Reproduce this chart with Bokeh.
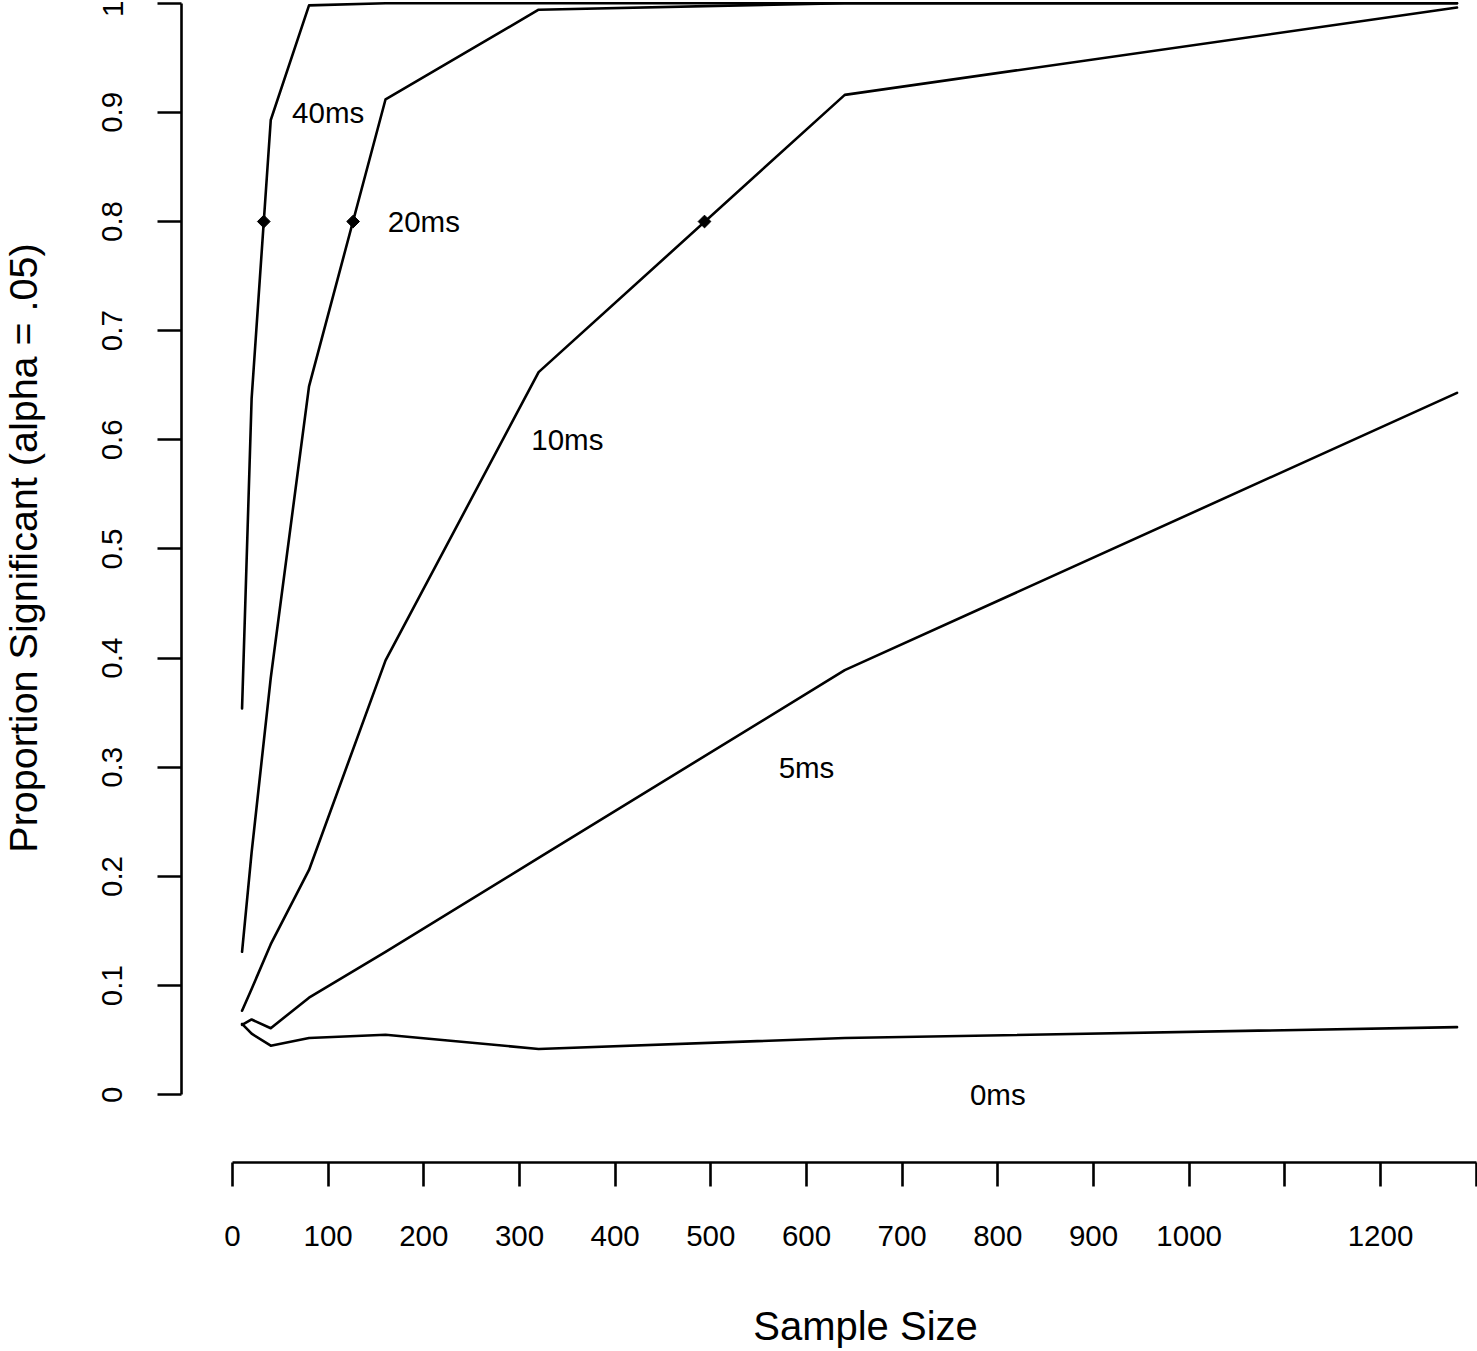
import numpy as np
from bokeh.plotting import figure
from bokeh.models import Range1d, FixedTicker, Label
from bokeh.core.properties import value
from bokeh.embed import file_html
from bokeh.resources import INLINE

# ---- data ----
sample_size = [10, 20, 40, 80, 160, 320, 640, 1280]
power_40ms = [0.354, 0.638, 0.893, 0.998, 1.0, 1.0, 1.0, 1.0]
power_20ms = [0.131, 0.222, 0.382, 0.649, 0.912, 0.994, 1.0, 1.0]
power_10ms = [0.077, 0.097, 0.138, 0.206, 0.398, 0.662, 0.916, 0.996]
power_5ms = [0.064, 0.069, 0.061, 0.089, 0.131, 0.217, 0.389, 0.643]
power_0ms = [0.065, 0.056, 0.045, 0.052, 0.055, 0.042, 0.052, 0.062]

effect_labels = ["40ms", "20ms", "10ms", "5ms", "0ms"]
label_x = [100, 200, 350, 600, 800]
label_y = [0.9, 0.8, 0.6, 0.3, 0.0]

power80_n = [32.7, 126.1, 493.4]
power80_p = [0.8, 0.8, 0.8]

x_ticks = [0, 100, 200, 300, 400, 500, 600, 700, 800, 900, 1000, 1100, 1200, 1300]
x_hidden = {1100: "", 1300: ""}
y_ticks = [0, 0.1, 0.2, 0.3, 0.4, 0.5, 0.6, 0.7, 0.8, 0.9, 1]
y_overrides = {0: "0", 1: "1"}

x_title = "Sample Size"
y_title = "Proportion Significant (alpha = .05)"

FONT = "Liberation Sans"
LW = 2.6

# whole canvas is the frame; axes are placed at fixed data locations
p = figure(width=1477, height=1350,
           x_range=Range1d(-242.5, 1301.4),
           y_range=Range1d(-0.23424, 1.00247),
           output_backend="svg", toolbar_location=None,
           min_border_left=0, min_border_right=0,
           min_border_top=0, min_border_bottom=0,
           background_fill_color="white", border_fill_color="white")
p.outline_line_color = None
p.xgrid.visible = False
p.ygrid.visible = False

xa = p.xaxis[0]
xa.fixed_location = -0.06202
xa.ticker = FixedTicker(ticks=x_ticks, minor_ticks=[])
xa.bounds = (0, 1300)
xa.major_label_overrides = x_hidden
ya = p.yaxis[0]
ya.fixed_location = -53.31
ya.ticker = FixedTicker(ticks=y_ticks, minor_ticks=[])
ya.bounds = (0, 1)
ya.major_label_overrides = y_overrides
ya.major_label_orientation = "parallel"

for ax in (xa, ya):
    ax.axis_line_color = "black"
    ax.axis_line_width = LW
    ax.major_tick_line_color = "black"
    ax.major_tick_line_width = LW
    ax.major_tick_out = 24
    ax.major_tick_in = 0
    ax.minor_tick_out = 0
    ax.minor_tick_in = 0
    ax.major_label_text_font = FONT
    ax.major_label_text_font_size = "29.5px"
    ax.major_label_text_color = "black"
xa.major_label_standoff = 39
ya.major_label_standoff = 35

for series in (power_40ms, power_20ms, power_10ms, power_5ms, power_0ms):
    p.line(sample_size, series, line_color="black", line_width=LW,
           line_join="round", line_cap="round")

p.scatter(power80_n, power80_p, marker="square", angle=np.pi / 4, size=9,
          fill_color="black", line_color="black", line_width=1)

p.text(x=label_x, y=label_y, text=effect_labels, text_font=value(FONT),
       text_font_size="29.5px", text_align="center", text_baseline="middle",
       text_color="black")

p.add_layout(Label(x=661.7, y=-0.2118, text=x_title, text_font=FONT,
                   text_font_size="40px", text_align="center",
                   text_baseline="middle", text_color="black"))
p.add_layout(Label(x=-219.0, y=0.5009, text=y_title, text_font=FONT,
                   text_font_size="39.5px", text_align="center",
                   text_baseline="middle", angle=np.pi / 2,
                   text_color="black"))

open("out.html", "w").write(file_html(p, INLINE))
